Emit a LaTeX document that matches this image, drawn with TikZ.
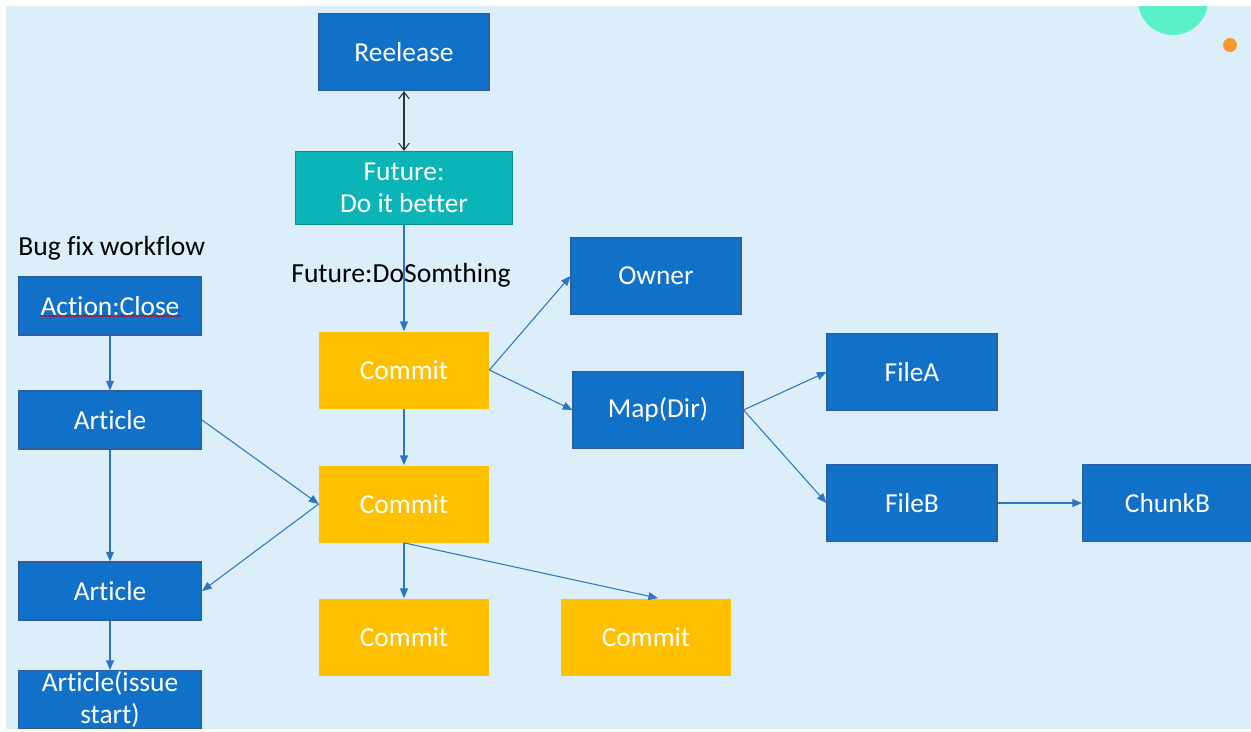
\documentclass[tikz,border=0pt]{standalone}
\usepackage{fontspec}
\setmainfont{Carlito}[Ligatures=NoCommon]
\usetikzlibrary{arrows.meta, calc, decorations.pathmorphing}
\definecolor{bgblue}{HTML}{DCEEF9}
\definecolor{boxblue}{HTML}{1170C8}
\definecolor{edgeblue}{HTML}{2F5E9E}
\definecolor{commitgold}{HTML}{FFC000}
\definecolor{futureteal}{HTML}{0BB5B7}
\definecolor{lineblue}{HTML}{2E74C4}
\definecolor{mint}{HTML}{5AF0C8}
\definecolor{dotorange}{HTML}{F49A2C}
\tikzset{
  box/.style={rectangle, inner sep=0pt, text=white, align=center,
    font=\fontsize{15.6}{18.3}\selectfont, minimum width=170*0.02cm, minimum height=77*0.02cm},
  bluebox/.style={box, fill=boxblue, draw=edgeblue, line width=0.6pt},
  commitbox/.style={box, fill=commitgold},
  futurebox/.style={box, fill=futureteal, draw=futureteal!80!black, line width=0.6pt},
  flow/.style={draw=lineblue, line width=0.6pt, -{Triangle[length=5.5pt,width=4.5pt]}},
  caption/.style={inner sep=0pt, font=\fontsize{15.7}{18}\selectfont}
}
\begin{document}
\begin{tikzpicture}[x=0.02cm, y=-0.02cm]
        \useasboundingbox (0,0) rectangle (1251,731);
        \fill[bgblue] (6,6) rectangle (1251,729);
        % corner dots
        \begin{scope}
            \clip (6,6) rectangle (1251,729);
            \fill[mint] (1173,0) circle[radius=0.7cm];
        \end{scope}
        \fill[dotorange] (1230,45) circle[radius=0.14cm];
        % top
        \node[bluebox] (release) at (404,52) {Reelease};
        \node[futurebox, minimum width=217*0.02cm, minimum height=73*0.02cm] (future) at (404,188) {Future:\\Do it better};
        \node[caption, anchor=west] (dosome) at (291,275) {Future:DoSomthing};
        % bug fix workflow
        \node[caption, anchor=west] (bugfix) at (18,248) {Bug fix workflow};
        \node[bluebox, minimum width=183*0.02cm, minimum height=58*0.02cm] (close) at (110,306) {Action:Close};
        \node[bluebox, minimum width=183*0.02cm, minimum height=58*0.02cm] (article) at (110,420) {Article};
        \node[bluebox, minimum width=183*0.02cm, minimum height=58*0.02cm] (article2) at (110,591) {Article};
        \node[bluebox, minimum width=183*0.02cm, minimum height=58*0.02cm, anchor=north] (issue) at (110,670) {Article(issue\\start)};
        % commits
        \node[commitbox] (commit) at (404,370) {Commit};
        \node[commitbox] (commit2) at (404,504) {Commit};
        \node[commitbox] (commit3) at (404,637) {Commit};
        \node[commitbox] (commit4) at (646,637) {Commit};
        % owner, map, files
        \node[bluebox] (owner) at (656,276) {Owner};
        \node[bluebox] (map) at (658,410) {Map(Dir)};
        \node[bluebox] (filea) at (912,372) {FileA};
        \node[bluebox] (fileb) at (912,503) {FileB};
        \node[bluebox, anchor=west] (chunkb) at (1082,503) {ChunkB};
        % spelling mark
        \draw[red!80!black, line width=0.4pt, decorate,
              decoration={snake, amplitude=0.5pt, segment length=2pt}]
            ($(close.center)+(-70,10)$) -- ($(close.center)+(72,10)$);
        % connectors
        \draw[black!80, line width=0.6pt, {Straight Barb[length=4pt,width=6pt]}-{Straight Barb[length=4pt,width=6pt]}] (release) -- (future);
        \draw[flow] (future) -- (commit);
        \draw[flow] (close) -- (article);
        \draw[flow] (article) -- (article2);
        \draw[flow] (article2) -- (issue);
        \draw[flow] (article.east) -- (commit2.west);
        \draw[flow] (commit2.west) -- (article2.east);
        \draw[flow] (commit) -- (commit2);
        \draw[flow] (commit2) -- (commit3);
        \draw[flow] (commit2.south) -- ($(commit4.north)+(12,0)$);
        \draw[flow] (commit.east) -- (owner.west);
        \draw[flow] (commit.east) -- (map.west);
        \draw[flow] (map.east) -- (filea.west);
        \draw[flow] (map.east) -- (fileb.west);
        \draw[flow] (fileb) -- (chunkb);
    \end{tikzpicture}
\end{document}
